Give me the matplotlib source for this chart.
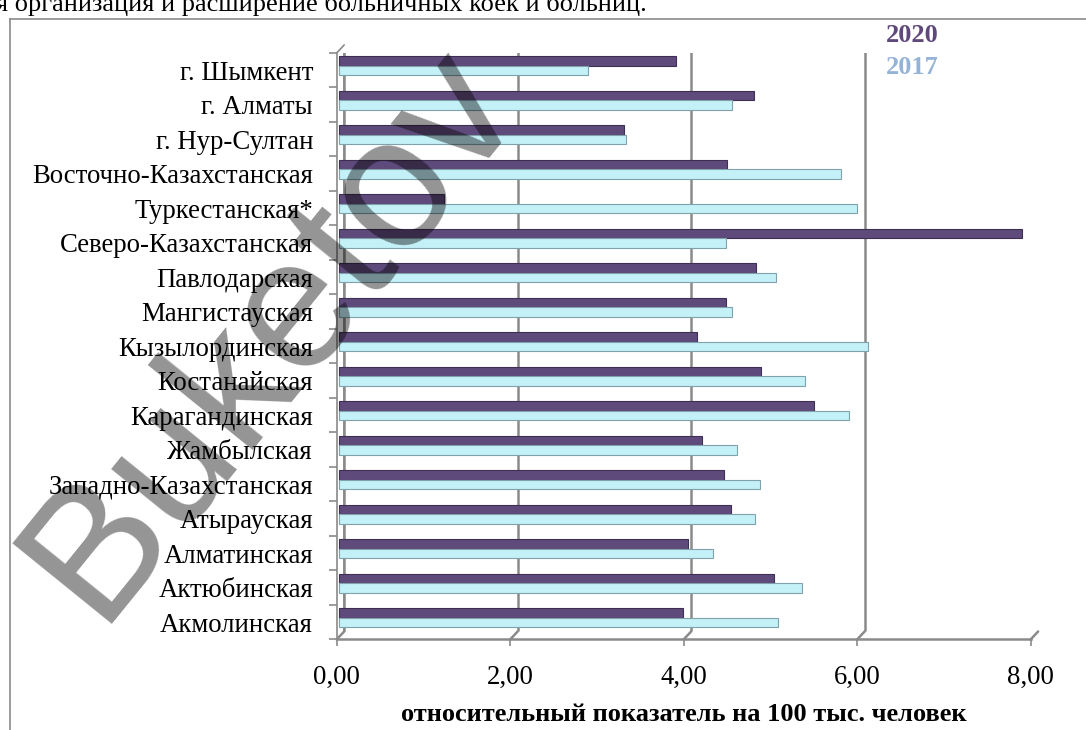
import matplotlib
matplotlib.use('Agg')
import matplotlib.pyplot as plt
import numpy as np
from matplotlib.transforms import ScaledTranslation
from matplotlib.patches import ConnectionPatch
from matplotlib.lines import Line2D
from matplotlib.ticker import FuncFormatter

# regions, bottom to top as drawn on the chart
regions = ['Акмолинская', 'Актюбинская', 'Алматинская', 'Атырауская',
           'Западно-Казахстанская', 'Жамбылская', 'Карагандинская',
           'Костанайская', 'Кызылординская', 'Мангистауская', 'Павлодарская',
           'Северо-Казахстанская', 'Туркестанская*', 'Восточно-Казахстанская',
           'г. Нур-Султан', 'г. Алматы', 'г. Шымкент']

values_2020 = [3.96, 5.01, 4.02, 4.52, 4.44, 4.18, 5.47, 4.86, 4.13, 4.46,
               4.81, 7.87, 1.21, 4.47, 3.28, 4.78, 3.88]
values_2017 = [5.06, 5.34, 4.31, 4.79, 4.85, 4.59, 5.88, 5.37, 6.10, 4.53,
               5.04, 4.46, 5.97, 5.78, 3.31, 4.53, 2.87]

x_ticks = [0, 2, 4, 6, 8]
series_names = ['2020', '2017']

serif = ['Liberation Serif', 'DejaVu Serif']
grey = '#8a8a8a'
purple = '#5f4a7c'
light = '#c4f0f8'

fig = plt.figure(figsize=(10.86, 7.30), dpi=100)
ax = fig.add_axes([0.31, 0.124, 0.639, 0.8034])

n = len(regions)
y = np.arange(n)
h = 0.275

# bars sit a little behind the front plane (3D look)
mid = ax.transData + ScaledTranslation(0.025, 0.045, fig.dpi_scale_trans)
ax.barh(y + h / 2, values_2020, height=h, color=purple, edgecolor='#3e2f55',
        linewidth=0.8, transform=mid, zorder=3)
ax.barh(y - h / 2, values_2017, height=h, color=light, edgecolor='#7fa3ab',
        linewidth=0.8, transform=mid, zorder=3)

ax.set_xlim(0, 8)
ax.set_ylim(-0.5, n - 0.5)

# back wall gridlines, shifted up/right, with a short diagonal to the floor
back = ax.transData + ScaledTranslation(0.075, 0.08, fig.dpi_scale_trans)
for xt in x_ticks:
    ax.plot([xt, xt], [-0.5, n - 0.5], color=grey, lw=1.8, transform=back,
            zorder=1, solid_capstyle='butt')
    con = ConnectionPatch(xyA=(xt, -0.5), coordsA=back, xyB=(xt, -0.5),
                          coordsB=ax.transData, color=grey, lw=1.8)
    ax.add_artist(con)
# left wall
ax.plot([0, 0], [-0.5, n - 0.5], color=grey, lw=1.2, transform=back, zorder=1)
con = ConnectionPatch(xyA=(0, n - 0.5), coordsA=back, xyB=(0, n - 0.5),
                      coordsB=ax.transData, color=grey, lw=1.2)
ax.add_artist(con)

for s in ['top', 'right']:
    ax.spines[s].set_visible(False)
ax.spines['left'].set_color(grey)
ax.spines['left'].set_linewidth(1.2)
ax.spines['bottom'].set_color(grey)
ax.spines['bottom'].set_linewidth(1.8)

ax.set_yticks(y)
ax.set_yticklabels(regions, fontsize=19.3, family=serif)
ax.set_yticks(np.arange(-0.5, n, 1), minor=True)
ax.tick_params(axis='y', which='major', length=0, pad=17)
ax.tick_params(axis='y', which='minor', length=6, width=1.2, color=grey)

ax.set_xticks(x_ticks)
ax.xaxis.set_major_formatter(FuncFormatter(lambda v, p: f'{v:.2f}'.replace('.', ',')))
ax.tick_params(axis='x', length=5, width=1.2, color=grey, pad=13, labelsize=19.3)
for lab in ax.get_xticklabels():
    lab.set_family(serif)

ax.set_xlabel('относительный показатель на 100 тыс. человек', fontsize=19,
              fontweight='bold', family=serif, labelpad=10)

# legend as coloured words
fig.text(0.816, 0.952, series_names[0], color='#5f497a', fontsize=19,
         fontweight='bold', family=serif, ha='left', va='center')
fig.text(0.816, 0.908, series_names[1], color='#95b3d7', fontsize=19,
         fontweight='bold', family=serif, ha='left', va='center')

# outer chart frame and clipped page text above it
fig.add_artist(Line2D([0.0092, 0.0092], [0, 1 - 19 / 730], color=grey, lw=1.2))
fig.add_artist(Line2D([0.0092, 1], [1 - 19 / 730, 1 - 19 / 730], color=grey, lw=1.2))
fig.text(-0.004, 1 - 11 / 730, 'я организация и расширение больничных коек и больниц.',
         fontsize=19, family=serif, ha='left', va='baseline')

# watermark
fig.text(272 / 1086, 1 - 332 / 730, 'Buketov', fontsize=134,
         family=['Liberation Sans', 'DejaVu Sans'], color='black', alpha=0.42,
         rotation=51, ha='center', va='center', rotation_mode='anchor', zorder=10)

fig.savefig('out.png', dpi=100)
